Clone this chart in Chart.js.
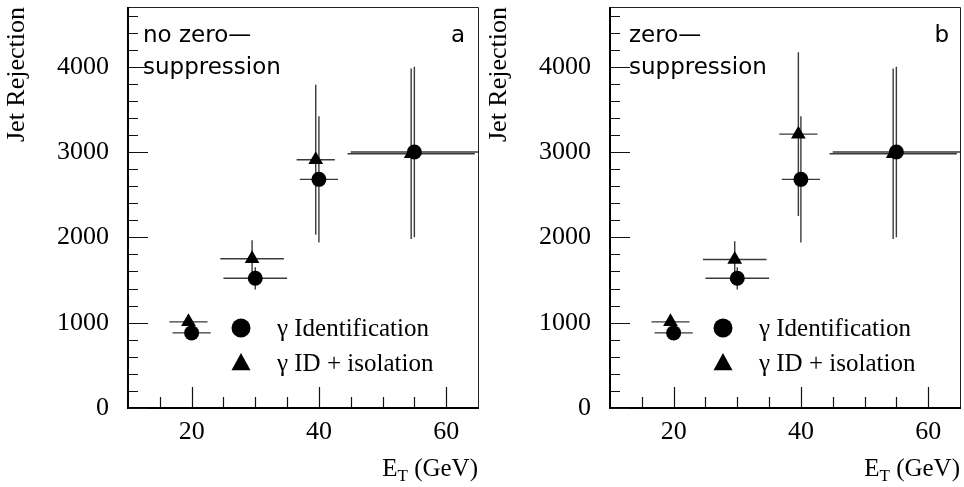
<!DOCTYPE html>
<html>
<head>
<meta charset="utf-8">
<script src="https://cdn.jsdelivr.net/npm/chart.js@4.4.0/dist/chart.umd.min.js"></script>
<style>
    html, body { margin: 0; padding: 0; background: #fff; }
    #wrap { display: flex; width: 964px; height: 487px; }
    canvas { display: block; }
</style>
</head>
<body>
<div id="wrap">
    <canvas id="chartA" width="482" height="487"></canvas>
    <canvas id="chartB" width="482" height="487"></canvas>
</div>
<script>
// ===============================
// Datos
// ===============================
const xTickLabels = [20, 40, 60];
const yTickLabels = [0, 1000, 2000, 3000, 4000];
const legendLabels = ['\u03b3 Identification', '\u03b3 ID + isolation'];

// Panel a : no zero-suppression
const idX_a = [20, 30, 40, 55];
const idY_a = [880, 1520, 2680, 3000];
const idXErr_a = [3, 5, 3, 10];
const idYErr_a = [50, 130, 740, 1000];
const isoX_a = [19.5, 29.5, 39.5, 54.5];
const isoY_a = [1010, 1750, 2910, 2980];
const isoXErr_a = [3, 5, 3, 10];
const isoYErr_a = [50, 215, 880, 1000];

// Panel b : zero-suppression
const idX_b = [20, 30, 40, 55];
const idY_b = [880, 1520, 2680, 3000];
const idXErr_b = [3, 5, 3, 10];
const idYErr_b = [50, 130, 740, 1000];
const isoX_b = [19.5, 29.6, 39.6, 54.5];
const isoY_b = [1010, 1740, 3210, 2980];
const isoXErr_b = [3, 5, 3, 10];
const isoYErr_b = [50, 215, 960, 1000];

const serif = 'Liberation Serif, Times New Roman, serif';
const sans = 'DejaVu Sans, sans-serif';

function toPoints(xs, ys) {
    return xs.map((x, i) => ({ x: x, y: ys[i] }));
}

function drawTriangle(ctx, cx, cy, half) {
    ctx.beginPath();
    ctx.moveTo(cx, cy - half * 1.05);
    ctx.lineTo(cx - half, cy + half * 0.75);
    ctx.lineTo(cx + half, cy + half * 0.75);
    ctx.closePath();
    ctx.fill();
}

// ===============================
// Plugin: barras de error, marco, ticks, textos
// ===============================
const hepPlot = {
    id: 'hepPlot',
    beforeDatasetsDraw(chart) {
        const { ctx, scales: { x, y } } = chart;
        ctx.save();
        ctx.strokeStyle = '#3a3a3a';
        ctx.lineWidth = 1.4;
        chart.data.datasets.forEach(ds => {
            ds.data.forEach((p, i) => {
                const px = x.getPixelForValue(p.x);
                const py = y.getPixelForValue(p.y);
                ctx.beginPath();
                ctx.moveTo(x.getPixelForValue(p.x - ds.xErr[i]), py);
                ctx.lineTo(x.getPixelForValue(p.x + ds.xErr[i]), py);
                ctx.moveTo(px, y.getPixelForValue(p.y - ds.yErr[i]));
                ctx.lineTo(px, y.getPixelForValue(p.y + ds.yErr[i]));
                ctx.stroke();
            });
        });
        ctx.restore();
    },
    afterDraw(chart, args, opts) {
        const { ctx, chartArea: a, scales: { x, y } } = chart;
        ctx.save();

        // marco
        ctx.strokeStyle = '#222';
        ctx.lineWidth = 1;
        ctx.beginPath();
        ctx.moveTo(a.left, a.top + 0.5);
        ctx.lineTo(a.right + 0.5, a.top + 0.5);
        ctx.lineTo(a.right + 0.5, a.bottom);
        ctx.stroke();
        ctx.strokeStyle = '#000';
        ctx.lineWidth = 2;
        ctx.beginPath();
        ctx.moveTo(a.left, a.top);
        ctx.lineTo(a.left, a.bottom);
        ctx.lineTo(a.right + 1, a.bottom);
        ctx.stroke();

        // ticks hacia dentro
        ctx.lineWidth = 1.2;
        ctx.strokeStyle = '#111';
        ctx.beginPath();
        y.ticks.forEach(t => {
            if (t.value >= y.max) return;
            const py = Math.round(y.getPixelForValue(t.value)) + 0.5;
            const len = yTickLabels.includes(t.value) ? 20 : 10;
            ctx.moveTo(a.left, py);
            ctx.lineTo(a.left + len, py);
        });
        x.ticks.forEach(t => {
            if (t.value <= x.min || t.value >= x.max) return;
            const px = Math.round(x.getPixelForValue(t.value)) + 0.5;
            const len = xTickLabels.includes(t.value) ? 21 : 11;
            ctx.moveTo(px, a.bottom);
            ctx.lineTo(px, a.bottom - len);
        });
        ctx.stroke();

        // texto de la esquina
        ctx.fillStyle = '#000';
        ctx.font = '23px ' + sans;
        ctx.textBaseline = 'alphabetic';
        ctx.textAlign = 'left';
        opts.lines.forEach((line, i) => {
            ctx.fillText(line, a.left + opts.indent, 42 + i * 32);
        });
        ctx.textAlign = 'right';
        ctx.fillText(opts.tag, a.right - opts.tagRight, 42);

        // leyenda
        const mx = a.left + 113;
        const tx = a.left + 149;
        ctx.beginPath();
        ctx.arc(mx, 328, 9.5, 0, Math.PI * 2);
        ctx.fill();
        drawTriangle(ctx, mx, 363, 9.5);
        ctx.font = '25px ' + serif;
        ctx.textAlign = 'left';
        ctx.fillText(legendLabels[0], tx, 336);
        ctx.fillText(legendLabels[1], tx, 371);

        // título eje x con subíndice
        const bigFont = '25px ' + serif;
        const subFont = '17px ' + serif;
        ctx.font = bigFont;
        const wE = ctx.measureText('E').width;
        const wRest = ctx.measureText(' (GeV)').width;
        ctx.font = subFont;
        const wT = ctx.measureText('T').width;
        let sx = a.right - (wE + wT + wRest);
        const base = 476;
        ctx.font = bigFont;
        ctx.fillText('E', sx, base);
        ctx.font = subFont;
        ctx.fillText('T', sx + wE, base + 5);
        ctx.font = bigFont;
        ctx.fillText(' (GeV)', sx + wE + wT, base);

        ctx.restore();
    }
};

// ===============================
// Crear cada panel
// ===============================
function makePanel(canvasId, idX, idY, idXErr, idYErr, isoX, isoY, isoXErr, isoYErr, text) {
    const ctx = document.getElementById(canvasId).getContext('2d');
    return new Chart(ctx, {
        type: 'scatter',
        data: {
            datasets: [
                {
                    label: legendLabels[0],
                    data: toPoints(idX, idY),
                    xErr: idXErr,
                    yErr: idYErr,
                    pointStyle: 'circle',
                    pointRadius: 7.5,
                    backgroundColor: '#000',
                    borderColor: '#000',
                    borderWidth: 0
                },
                {
                    label: legendLabels[1],
                    data: toPoints(isoX, isoY),
                    xErr: isoXErr,
                    yErr: isoYErr,
                    pointStyle: 'triangle',
                    pointRadius: 8.5,
                    backgroundColor: '#000',
                    borderColor: '#000',
                    borderWidth: 0
                }
            ]
        },
        options: {
            responsive: false,
            animation: false,
            devicePixelRatio: 1,
            layout: { autoPadding: false, padding: { top: 7, right: 4, bottom: 0, left: 0 } },
            plugins: {
                legend: { display: false },
                tooltip: { enabled: false },
                hepPlot: text
            },
            scales: {
                x: {
                    type: 'linear',
                    min: 10,
                    max: 65,
                    grid: { display: false, drawTicks: false },
                    border: { display: false },
                    afterFit(scale) {
                        scale.height = 79;
                        scale.paddingLeft = 0;
                        scale.paddingRight = 0;
                    },
                    ticks: {
                        stepSize: 5,
                        autoSkip: false,
                        maxRotation: 0,
                        padding: 0,
                        color: '#000',
                        font: { family: serif, size: 26, lineHeight: 1.85 },
                        callback: v => xTickLabels.includes(v) ? String(v) : ''
                    }
                },
                y: {
                    min: 0,
                    max: 4700,
                    grid: { display: false, drawTicks: false },
                    border: { display: false },
                    afterFit(scale) {
                        scale.width = 128;
                        scale.paddingTop = 0;
                        scale.paddingBottom = 0;
                    },
                    title: {
                        display: true,
                        text: 'Jet Rejection',
                        align: 'end',
                        color: '#000',
                        font: { family: serif, size: 26 },
                        padding: { top: 2, bottom: 0 }
                    },
                    ticks: {
                        stepSize: 200,
                        autoSkip: false,
                        includeBounds: false,
                        padding: 19,
                        color: '#000',
                        font: { family: serif, size: 26 },
                        callback: v => yTickLabels.includes(v) ? String(v) : ''
                    }
                }
            }
        },
        plugins: [hepPlot]
    });
}

document.addEventListener('DOMContentLoaded', () => {
    makePanel('chartA', idX_a, idY_a, idXErr_a, idYErr_a, isoX_a, isoY_a, isoXErr_a, isoYErr_a,
        { lines: ['no zero\u2014', 'suppression'], indent: 15, tag: 'a', tagRight: 13 });
    makePanel('chartB', idX_b, idY_b, idXErr_b, idYErr_b, isoX_b, isoY_b, isoXErr_b, isoYErr_b,
        { lines: ['zero\u2014', 'suppression'], indent: 19, tag: 'b', tagRight: 11 });
});
</script>
</body>
</html>
